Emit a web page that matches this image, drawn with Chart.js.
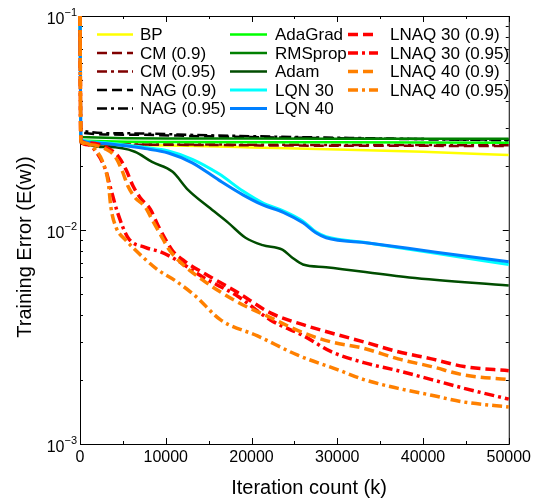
<!DOCTYPE html>
<html>
<head>
<meta charset="utf-8">
<script src="https://cdn.jsdelivr.net/npm/chart.js@4/dist/chart.umd.min.js"></script>
<style>
  body { margin: 0; background: #fff; }
  #wrap { width: 535px; height: 500px; }
</style>
</head>
<body>
<div id="wrap"><canvas id="errChart" width="535" height="500"></canvas></div>
<script>
// Iteration counts (k) and training error E(w)
const itBP = [0, 100, 8000, 20000, 30000, 40000, 50000];
const errBP = [0.1, 0.0258, 0.0249, 0.0243, 0.0238, 0.0232, 0.0224];

const itCM9 = [0, 100, 10000, 25000, 50000];
const errCM9 = [0.1, 0.0255, 0.0250, 0.0248, 0.0247];
const itCM95 = [0, 100, 10000, 25000, 50000];
const errCM95 = [0.1, 0.0253, 0.0251, 0.0250, 0.0249];

const itNAG9 = [0, 100, 5000, 15000, 25000, 35000, 50000];
const errNAG9 = [0.1, 0.0285, 0.0279, 0.0274, 0.0270, 0.0267, 0.0264];
const itNAG95 = [0, 100, 5000, 15000, 25000, 35000, 50000];
const errNAG95 = [0.1, 0.0292, 0.0283, 0.0277, 0.0272, 0.0268, 0.0262];

const itAdaGrad = [0, 100, 10000, 30000, 50000];
const errAdaGrad = [0.1, 0.0262, 0.0258, 0.0257, 0.0256];
const itRMSprop = [0, 100, 10000, 30000, 50000];
const errRMSprop = [0.1, 0.0272, 0.0268, 0.0267, 0.0267];

const itAdam = [0, 100, 3300, 6400, 8400, 10800, 12600, 15000, 17300, 19300, 21300, 23600, 24800, 26000, 28700, 38400, 50000];
const errAdam = [0.1, 0.0262, 0.0244, 0.0232, 0.0208, 0.0187, 0.0154, 0.0128, 0.0108, 0.0092, 0.0085, 0.0081, 0.0074, 0.0069, 0.0067, 0.0060, 0.0055];

const itLQN30 = [0, 100, 2000, 5000, 7600, 10300, 13100, 16200, 19000, 21300, 23700, 26000, 27500, 28700, 33600, 41300, 50000];
const errLQN30 = [0.1, 0.0265, 0.0257, 0.0250, 0.0243, 0.0234, 0.0214, 0.0183, 0.0152, 0.0134, 0.0123, 0.0110, 0.0098, 0.0093, 0.0087, 0.0078, 0.0069];
const itLQN40 = [0, 100, 2000, 5000, 7600, 10300, 13100, 16200, 19000, 21300, 23700, 26000, 27500, 28700, 33600, 41300, 50000];
const errLQN40 = [0.1, 0.0262, 0.0255, 0.0248, 0.0240, 0.0229, 0.0206, 0.0171, 0.0146, 0.0131, 0.0121, 0.0108, 0.0097, 0.0092, 0.0087, 0.0079, 0.0071];

const itLNAQ30_9 = [0, 100, 1200, 2900, 4500, 5400, 6200, 7000, 8200, 9100, 10000, 10800, 12300, 14400, 18400, 22200, 26100, 29300, 33100, 37100, 41000, 44800, 50000];
const errLNAQ30_9 = [0.1, 0.026, 0.0255, 0.0245, 0.022, 0.019, 0.016, 0.0142, 0.0125, 0.0105, 0.0090, 0.0080, 0.0071, 0.0063, 0.0051, 0.0041, 0.0036, 0.0033, 0.0030, 0.0027, 0.0025, 0.0023, 0.0022];
const itLNAQ30_95 = [0, 100, 900, 2100, 3000, 3700, 4400, 5600, 7600, 9400, 11100, 14400, 18400, 22200, 26100, 29300, 33100, 37100, 41000, 44800, 50000];
const errLNAQ30_95 = [0.1, 0.026, 0.025, 0.0225, 0.019, 0.015, 0.012, 0.0092, 0.0083, 0.0079, 0.0073, 0.0060, 0.0049, 0.0038, 0.0032, 0.0027, 0.0024, 0.0022, 0.0020, 0.00182, 0.00162];
const itLNAQ40_9 = [0, 100, 1200, 2900, 4100, 4900, 5600, 6400, 7600, 8500, 9400, 10300, 11500, 14400, 18400, 22200, 26100, 29300, 33100, 37100, 41000, 44800, 50000];
const errLNAQ40_9 = [0.1, 0.026, 0.025, 0.024, 0.022, 0.019, 0.016, 0.0142, 0.0128, 0.011, 0.0095, 0.0082, 0.0072, 0.0058, 0.0046, 0.0039, 0.0033, 0.0030, 0.0028, 0.0025, 0.0023, 0.0021, 0.0020];
const itLNAQ40_95 = [0, 100, 600, 1800, 2700, 3300, 3600, 4200, 5300, 6400, 7600, 9100, 11100, 13500, 16400, 20700, 25400, 30100, 33100, 37100, 41000, 44800, 50000];
const errLNAQ40_95 = [0.1, 0.026, 0.0255, 0.0237, 0.0206, 0.0166, 0.0128, 0.0103, 0.0090, 0.0081, 0.0073, 0.0065, 0.0058, 0.0049, 0.0038, 0.0032, 0.0026, 0.00222, 0.0020, 0.00182, 0.00169, 0.00157, 0.00149];

const xTicks = [0, 10000, 20000, 30000, 40000, 50000];
const yDecades = [-3, -2, -1];

const FONT = '"Liberation Sans", Arial, sans-serif';
const DASH = [10, 5];
const DASHDOT = [10, 4, 3, 4];

// label, iterations, errors, colour, dash, width
const series = [
  ['BP', itBP, errBP, '#ffff00', [], 2.5],
  ['CM (0.9)', itCM9, errCM9, '#800000', DASH, 2.5],
  ['CM (0.95)', itCM95, errCM95, '#800000', DASHDOT, 2.5],
  ['NAG (0.9)', itNAG9, errNAG9, '#000000', DASH, 2.5],
  ['NAG (0.95)', itNAG95, errNAG95, '#000000', DASHDOT, 2.5],
  ['AdaGrad', itAdaGrad, errAdaGrad, '#00ff00', [], 2.5],
  ['RMSprop', itRMSprop, errRMSprop, '#008000', [], 2.5],
  ['Adam', itAdam, errAdam, '#004d00', [], 2.5],
  ['LQN 30', itLQN30, errLQN30, '#00ffff', [], 3],
  ['LQN 40', itLQN40, errLQN40, '#0080ff', [], 3],
  ['LNAQ 30 (0.9)', itLNAQ30_9, errLNAQ30_9, '#ff0000', DASH, 3.5],
  ['LNAQ 30 (0.95)', itLNAQ30_95, errLNAQ30_95, '#ff0000', DASHDOT, 3.5],
  ['LNAQ 40 (0.9)', itLNAQ40_9, errLNAQ40_9, '#ff8000', DASH, 3.5],
  ['LNAQ 40 (0.95)', itLNAQ40_95, errLNAQ40_95, '#ff8000', DASHDOT, 3.5]
];

const datasets = series.map(([label, its, errs, color, dash, w], i) => ({
  label: label,
  data: its.map((k, j) => ({ x: k, y: errs[j] })),
  borderColor: color,
  backgroundColor: color,
  borderDash: dash,
  borderWidth: w,
  pointRadius: 0,
  fill: false,
  cubicInterpolationMode: 'monotone',
  clip: false,
  order: series.length - i
}));

// box, inward ticks, axis labels, titles and legend
const framePlugin = {
  id: 'frame',
  beforeDatasetsDraw(chart) {
    const { ctx, chartArea: a, scales: { x, y } } = chart;
    ctx.save();
    ctx.strokeStyle = '#000';
    ctx.lineWidth = 1;
    ctx.strokeRect(a.left + 0.5, a.top + 0.5, a.right - a.left, a.bottom - a.top);
    ctx.beginPath();
    for (let v = 0; v <= 50000; v += 5000) {
      const px = Math.round(x.getPixelForValue(v)) + 0.5;
      const len = v % 10000 === 0 ? 6 : 3;
      ctx.moveTo(px, a.bottom); ctx.lineTo(px, a.bottom - len);
      ctx.moveTo(px, a.top); ctx.lineTo(px, a.top + len);
    }
    yDecades.forEach(e => {
      for (let m = 1; m <= 9; m++) {
        const v = m * Math.pow(10, e);
        if (v > 0.1 + 1e-12) break;
        const py = Math.round(y.getPixelForValue(v)) + 0.5;
        const len = m === 1 ? 6 : 3;
        ctx.moveTo(a.left, py); ctx.lineTo(a.left + len, py);
        ctx.moveTo(a.right, py); ctx.lineTo(a.right - len, py);
      }
    });
    ctx.stroke();
    ctx.restore();
  },
  afterDraw(chart) {
    const { ctx, chartArea: a, scales: { y } } = chart;
    ctx.save();
    ctx.fillStyle = '#000';
    // y tick labels 10^e
    yDecades.forEach(e => {
      const py = y.getPixelForValue(Math.pow(10, e));
      ctx.font = '11px ' + FONT;
      const sup = '\u2212' + (-e);
      const sw = ctx.measureText(sup).width;
      ctx.textAlign = 'right';
      ctx.textBaseline = 'alphabetic';
      ctx.fillText(sup, a.left - 3, py);
      ctx.font = '16px ' + FONT;
      ctx.fillText('10', a.left - 3 - sw, py + 8);
    });
    // axis titles
    ctx.font = '20px ' + FONT;
    ctx.textAlign = 'center';
    ctx.textBaseline = 'middle';
    ctx.fillText('Iteration count (k)', 309, 488);
    ctx.save();
    ctx.translate(25, 247);
    ctx.rotate(-Math.PI / 2);
    ctx.fillText('Training Error (E(w))', 0, 0);
    ctx.restore();
    // legend, three columns
    const cols = [[97, 133, 140], [230, 267, 275], [348, 378, 390]];
    ctx.font = '17px ' + FONT;
    ctx.textAlign = 'left';
    chart.data.datasets.forEach((ds, i) => {
      const c = cols[Math.floor(i / 5)];
      const ry = 34.5 + (i % 5) * 18.5;
      ctx.beginPath();
      ctx.strokeStyle = ds.borderColor;
      ctx.lineWidth = ds.borderWidth;
      ctx.setLineDash(ds.borderDash);
      ctx.moveTo(c[0], ry); ctx.lineTo(c[1], ry);
      ctx.stroke();
      ctx.setLineDash([]);
      ctx.fillStyle = '#000';
      ctx.fillText(ds.label, c[2], ry + 1);
    });
    ctx.restore();
  }
};

new Chart(document.getElementById('errChart').getContext('2d'), {
  type: 'line',
  data: { datasets: datasets },
  options: {
    responsive: false,
    animation: false,
    devicePixelRatio: 1,
    layout: { padding: { left: 0, right: 26, top: 16, bottom: 0 } },
    plugins: { legend: { display: false }, tooltip: { enabled: false } },
    scales: {
      x: {
        type: 'linear',
        min: 0,
        max: 50000,
        afterFit: s => { s.height = 56; },
        afterBuildTicks: s => { s.ticks = xTicks.map(v => ({ value: v })); },
        ticks: {
          font: { family: FONT, size: 16 },
          color: '#000',
          maxRotation: 0,
          padding: 4,
          callback: v => String(v)
        },
        grid: { display: false, drawTicks: false },
        border: { display: false }
      },
      y: {
        type: 'logarithmic',
        min: 0.001,
        max: 0.1,
        afterFit: s => { s.width = 80; },
        ticks: { display: false },
        grid: { display: false, drawTicks: false },
        border: { display: false }
      }
    }
  },
  plugins: [framePlugin]
});
</script>
</body>
</html>
